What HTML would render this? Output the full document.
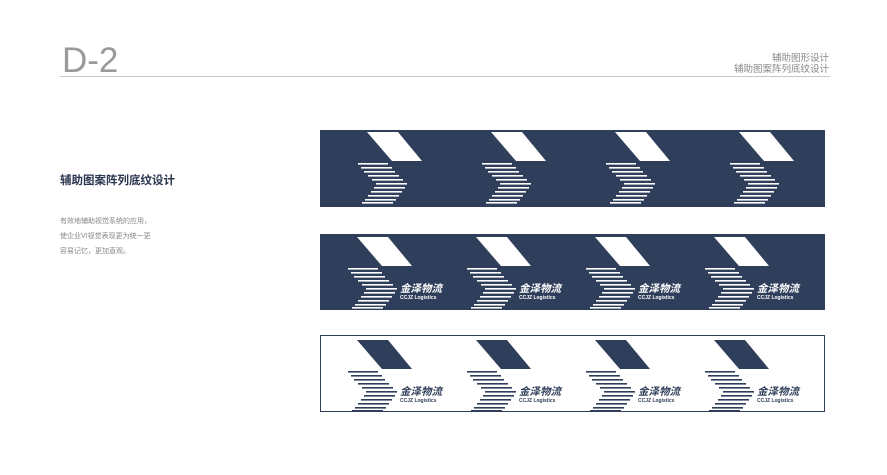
<!DOCTYPE html>
<html><head><meta charset="utf-8"><style>
body{margin:0;background:#fff;}
svg{display:block}
</style></head><body>
<svg width="887" height="475" viewBox="0 0 887 475" xmlns="http://www.w3.org/2000/svg">
<defs>
<g id="mk">
<polygon points="0,0 31,0 55,29 25,29"/>
<rect x="-9" y="31" width="30" height="1.6"/>
<rect x="-6" y="35" width="31" height="1.6"/>
<rect x="-3" y="39" width="31" height="1.6"/>
<rect x="1" y="43" width="31" height="1.6"/>
<rect x="5" y="47" width="31" height="1.6"/>
<rect x="9" y="51" width="31" height="1.6"/>
<rect x="7" y="55" width="31" height="1.6"/>
<rect x="4" y="59" width="31" height="1.6"/>
<rect x="1" y="63" width="31" height="1.6"/>
<rect x="-2" y="67" width="31" height="1.6"/>
<rect x="-5" y="70" width="31" height="1.6"/>
</g>
<g id="tx">
<text x="43" y="55" font-family="'Liberation Sans','Noto Sans CJK SC',sans-serif" font-size="10.5" font-weight="bold" font-style="italic">金泽物流</text>
<text x="43" y="62" font-family="'Liberation Sans',sans-serif" font-size="5" font-weight="bold">CCJZ Logistics</text>
</g>
</defs>
<text x="62" y="72" font-family="'Liberation Sans',sans-serif" font-size="35" fill="#9a9a9a">D-2</text>
<rect x="60" y="76" width="770" height="1" fill="#c8c8c8"/>
<text x="829" y="61" text-anchor="end" font-family="'Liberation Sans','Noto Sans CJK SC',sans-serif" font-size="9.5" fill="#888">辅助图形设计</text>
<text x="829" y="72" text-anchor="end" font-family="'Liberation Sans','Noto Sans CJK SC',sans-serif" font-size="9.5" fill="#888">辅助图案阵列底纹设计</text>
<text x="60" y="184" font-family="'Liberation Sans','Noto Sans CJK SC',sans-serif" font-size="11.5" font-weight="bold" fill="#2b3650">辅助图案阵列底纹设计</text>
<g font-family="'Liberation Sans','Noto Sans CJK SC',sans-serif" font-size="7" fill="#888">
<text x="60" y="223">有效地辅助视觉系统的应用，</text>
<text x="60" y="238">使企业VI视觉表现更为统一更</text>
<text x="60" y="253">容易记忆，更加直观。</text>
</g>
<rect x="320" y="130" width="505" height="77" fill="#2f3e5a"/>
<g fill="#fff">
<use href="#mk" x="367" y="132"/><use href="#mk" x="491" y="132"/><use href="#mk" x="615" y="132"/><use href="#mk" x="739" y="132"/>
</g>
<rect x="320" y="234" width="505" height="76" fill="#2f3e5a"/>
<g fill="#fff">
<use href="#mk" x="357" y="237"/><use href="#tx" x="357" y="237"/>
<use href="#mk" x="476" y="237"/><use href="#tx" x="476" y="237"/>
<use href="#mk" x="595" y="237"/><use href="#tx" x="595" y="237"/>
<use href="#mk" x="714" y="237"/><use href="#tx" x="714" y="237"/>
</g>
<rect x="320.5" y="335.5" width="504" height="76" fill="#fff" stroke="#2f3e5a" stroke-width="1"/>
<g fill="#2f3e5a">
<use href="#mk" x="357" y="340"/><use href="#tx" x="357" y="340"/>
<use href="#mk" x="476" y="340"/><use href="#tx" x="476" y="340"/>
<use href="#mk" x="595" y="340"/><use href="#tx" x="595" y="340"/>
<use href="#mk" x="714" y="340"/><use href="#tx" x="714" y="340"/>
</g>
</svg>
</body></html>
